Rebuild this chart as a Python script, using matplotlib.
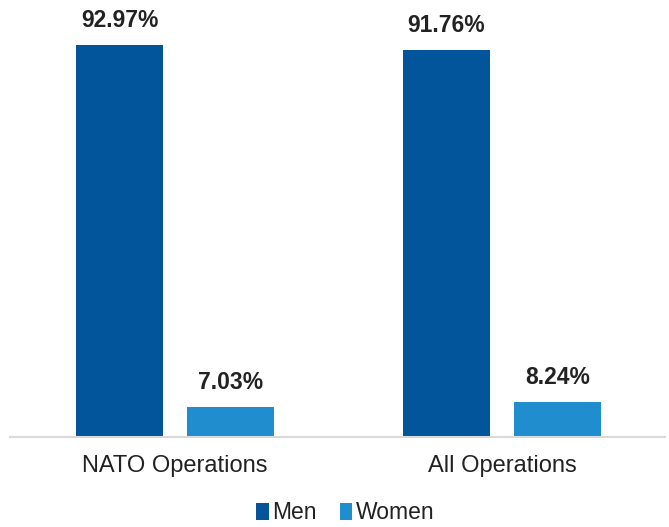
import numpy as np
import matplotlib.pyplot as plt

plt.rcParams['font.family'] = ['Liberation Sans', 'DejaVu Sans']

categories = ['NATO Operations', 'All Operations']
men = [92.97, 91.76]
women = [7.03, 8.24]

fig = plt.figure(figsize=(6.69, 5.27), dpi=100)
ax = fig.add_axes([0.015, 0.171, 0.979, 0.829])

x = np.arange(len(categories))
w = 0.266
off = 0.17
b1 = ax.bar(x - off, men, w, color='#02549B', label='Men')
b2 = ax.bar(x + off, women, w, color='#1F8DCE', label='Women')

for bars, vals in [(b1, men), (b2, women)]:
    for b, v in zip(bars, vals):
        ax.text(b.get_x() + b.get_width() / 2, v + 3.1, '{:.2f}%'.format(v),
                ha='center', va='bottom', fontsize=16.5, fontweight='bold', color='#222222')

ax.set_xlim(-0.505, 1.498)
ax.set_ylim(0, 103.6)
ax.set_xticks(x)
ax.set_xticklabels(categories, fontsize=17, color='#222222')
ax.tick_params(axis='x', length=0, pad=13)
ax.set_yticks([])
for s in ['top', 'right', 'left']:
    ax.spines[s].set_visible(False)
ax.spines['bottom'].set_color('#D9D9D9')
ax.spines['bottom'].set_linewidth(1.5)

fig.legend(loc='center', bbox_to_anchor=(0.516, 0.027), ncol=2, frameon=False,
           fontsize=16.5, handlelength=0.55, handleheight=0.75, handletextpad=0.15,
           columnspacing=1.0, labelcolor='#222222', borderpad=0)

plt.savefig('out.png')
